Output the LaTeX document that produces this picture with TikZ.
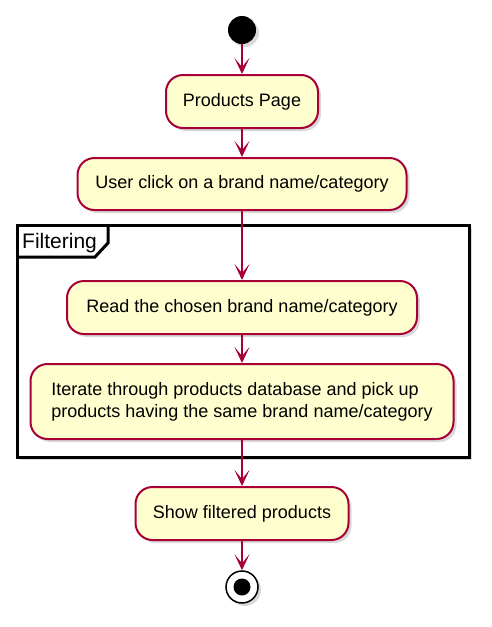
\documentclass[tikz,border=0pt]{standalone}
\usepackage{fontspec}
\setmainfont{Liberation Sans}
\usetikzlibrary{arrows.meta,shadows}
\definecolor{umlred}{RGB}{168,0,54}
\definecolor{umlfill}{RGB}{254,254,206}
\begin{document}
\begin{tikzpicture}[x=1pt,y=-1pt,
  shd/.style={drop shadow={shadow xshift=3pt, shadow yshift=-3pt, opacity=0.3}},
  act/.style={draw=umlred, fill=umlfill, line width=2pt, rounded corners=17pt,
    inner sep=0pt, font=\fontsize{18}{22}\selectfont, shd},
  flow/.style={draw=umlred, line width=2pt,
    -{Stealth[length=16pt,width=15pt,inset=9pt]}},
  framebox/.style={draw=black, line width=3pt},
]
\useasboundingbox (0,0) rectangle (492,627);

% group frame
\draw[framebox, fill=white, shd] (17,225) rectangle (469,457);
\draw[framebox, line join=miter] (17,257) -- (95,257) -- (108,243) -- (108,225);
\node[anchor=base west, inner sep=0pt, font=\fontsize{21}{25}\selectfont] (ft) at (22,248) {Filtering};

% start
\node[circle, fill=black, minimum size=28pt, inner sep=0pt, shd] (s) at (242,30) {};

% activities
\node[act, minimum width=152pt, minimum height=53pt, align=center] (p1) at (242,101.5) {Products Page};
\node[act, minimum width=329pt, minimum height=52pt, align=center] (p2) at (242,184) {User click on a brand name/category};
\node[act, minimum width=350pt, minimum height=53pt, align=center] (p3) at (242,307.5) {Read the chosen brand name/category};
\node[act, minimum width=423pt, minimum height=75pt, align=left] (p4) at (242,401.5) {Iterate through products database and pick up\\products having the same brand name/category};
\node[act, minimum width=213pt, minimum height=53pt, align=center] (p5) at (242,513.5) {Show filtered products};

% stop
\node[circle, draw=black, fill=white, line width=1.5pt, minimum size=32pt, inner sep=0pt, shd] (e) at (242,587) {};
\node[circle, fill=black, minimum size=17pt, inner sep=0pt] (ein) at (e.center) {};

% flows
\draw[flow] (s.south) -- (p1.north);
\draw[flow] (p1.south) -- (p2.north);
\draw[flow] (p2.south) -- (p3.north);
\draw[flow] (p3.south) -- (p4.north);
\draw[flow] (p4.south) -- (p5.north);
\draw[flow] (p5.south) -- (e.north);
\end{tikzpicture}
\end{document}
